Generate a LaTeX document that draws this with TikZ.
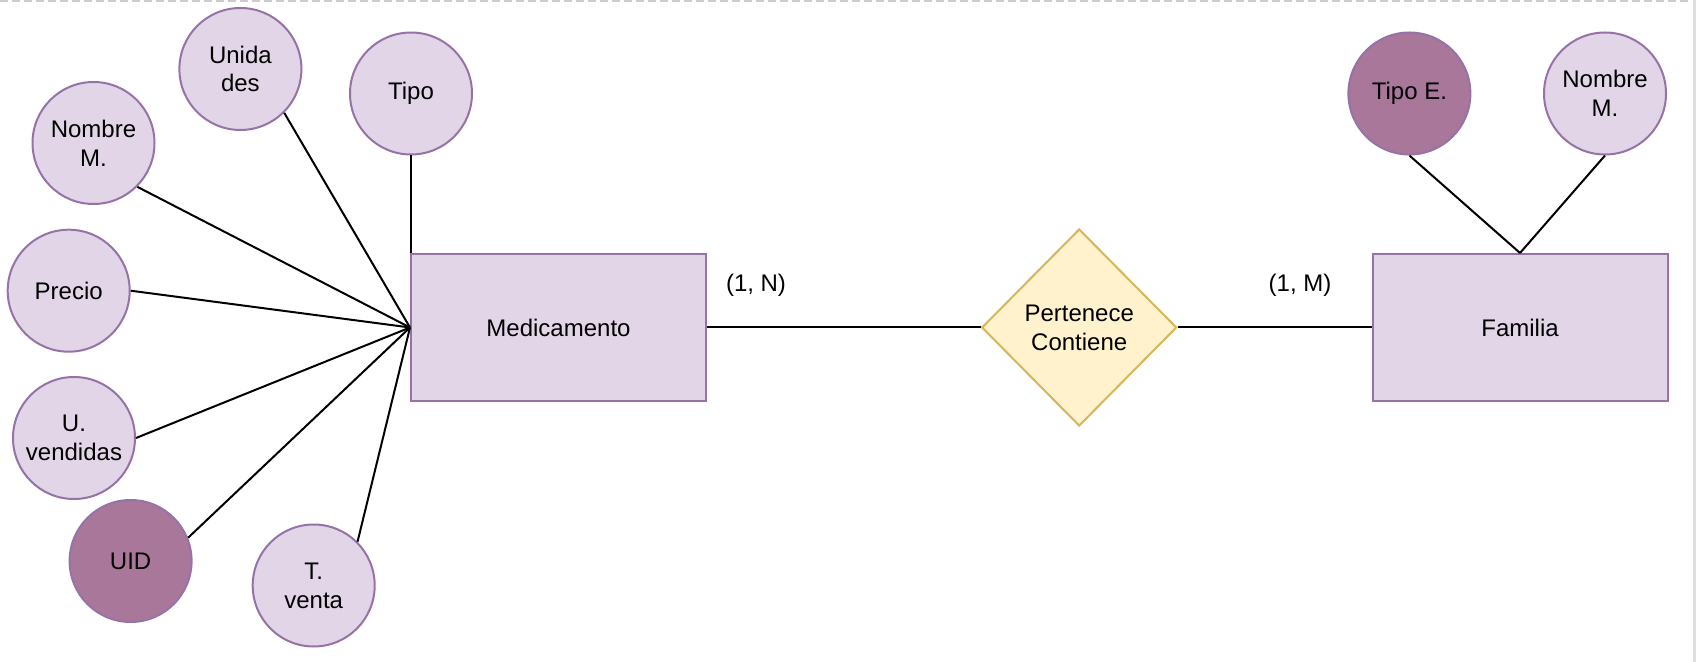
\documentclass[tikz,border=0pt]{standalone}
\usepackage{fontspec}
\setmainfont{Liberation Sans}
\usetikzlibrary{shapes.geometric}

\definecolor{attrfill}{RGB}{225,213,231}
\definecolor{attrdraw}{RGB}{150,115,166}
\definecolor{keyfill}{RGB}{168,119,154}
\definecolor{relfill}{RGB}{255,242,204}
\definecolor{reldraw}{RGB}{214,182,86}
\definecolor{pageline}{RGB}{204,204,204}

\tikzset{
  erfont/.style={font=\fontsize{12}{14.4}\selectfont},
  attr/.style={circle, draw=attrdraw, fill=attrfill, line width=1pt, minimum size=61pt, inner sep=0pt, align=center, erfont},
  keyattr/.style={attr, fill=keyfill},
  entity/.style={rectangle, draw=attrdraw, fill=attrfill, line width=1pt, minimum width=147.5pt, minimum height=73.5pt, erfont},
  relation/.style={diamond, draw=reldraw, fill=relfill, line width=1pt, minimum width=97.5pt, minimum height=98.5pt, inner sep=0pt, align=center, erfont},
  link/.style={line width=1pt, black},
  card/.style={inner sep=0pt, erfont}
}

\begin{document}
\begin{tikzpicture}[x=0.5pt,y=0.5pt,yscale=-1,xscale=1]
\useasboundingbox (0,0) rectangle (1696,662);

%page border
\draw [pageline, line width=1pt, dash pattern=on 4pt off 2pt] (0,1) -- (1690,1) ;
\fill [pageline!60] (1693,0) rectangle (1696,662) ;

%Shape: Rectangle [Medicamento]
\node [entity] (med) at (558.5,327.5) {Medicamento};
%Shape: Rectangle [Familia]
\node [entity] (fam) at (1520,327.5) {Familia};
%Shape: Diamond
\node [relation] (pert) at (1079.2,327.5) {Pertenece\\Contiene};

%Shape: Circle
\node [attr] (unidades) at (240.4,69) {Unida\\des};
%Shape: Circle
\node [attr] (tipo) at (411,93.5) {Tipo};
%Shape: Circle
\node [attr] (nombre) at (93.5,143) {Nombre\\M.};
%Shape: Circle
\node [attr] (precio) at (68.7,290.7) {Precio};
%Shape: Circle
\node [attr] (uvendidas) at (74,438) {U.\\vendidas};
%Shape: Circle
\node [keyattr] (uid) at (130.6,561) {UID};
%Shape: Circle
\node [attr] (tventa) at (313.7,585.5) {T.\\venta};
%Shape: Circle
\node [keyattr] (tipoe) at (1409.4,93.5) {Tipo E.};
%Shape: Circle
\node [attr] (nombrefam) at (1605,93.5) {Nombre\\M.};

%Straight Lines
\draw [link] (unidades.-45) -- (med.west) ;
\draw [link] (tipo.south) -- (tipo.south |- med.north) ;
\draw [link] (nombre.-45) -- (med.west) ;
\draw [link] (precio.east) -- (med.west) ;
\draw [link] (uvendidas.east) -- (med.west) ;
\draw [link] (uid.22) -- (med.west) ;
\draw [link] (tventa.45) -- (med.west) ;
%Straight Lines
\draw [link] (med.east) -- (pert.west) ;
\draw [link] (pert.east) -- (fam.west) ;
%Straight Lines
\draw [link] (tipoe.south) -- (fam.north) ;
\draw [link] (nombrefam.south) -- (fam.north) ;

% Text Node
\node [card] (cardmed) at (756,285) {(1, N)};
% Text Node
\node [card] (cardfam) at (1300,285) {(1, M)};

\end{tikzpicture}
\end{document}
